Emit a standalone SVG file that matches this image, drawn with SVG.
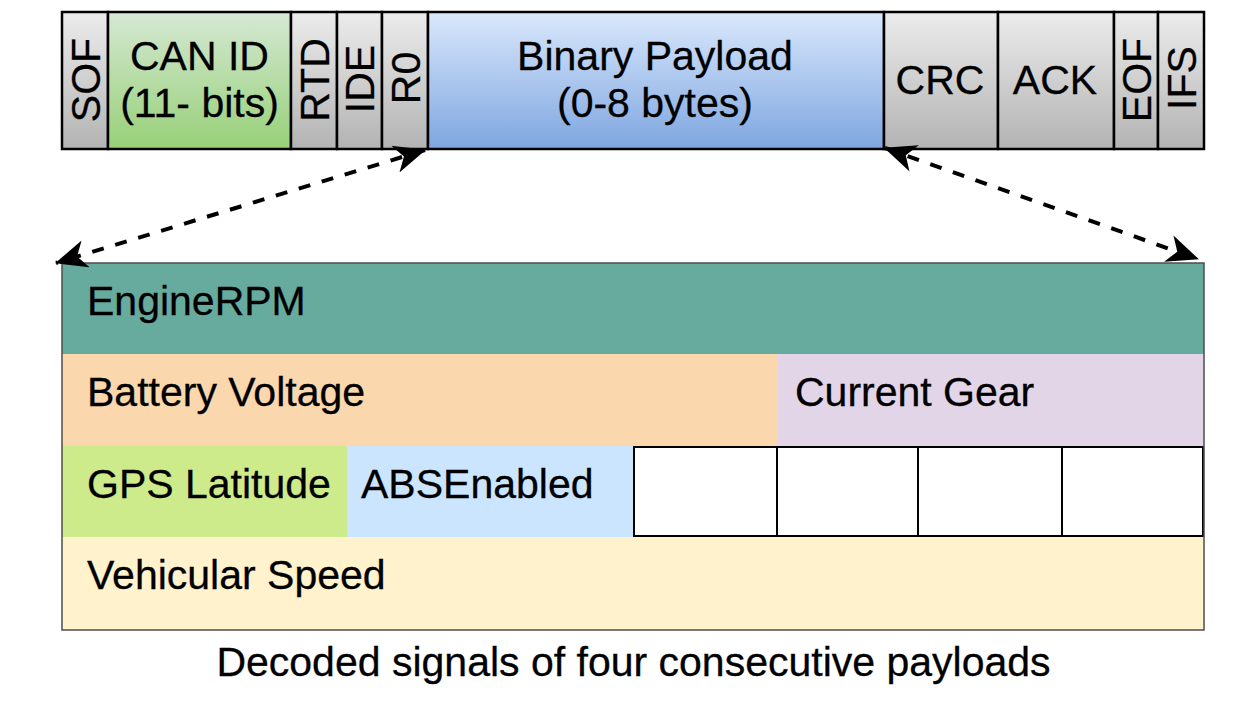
<svg xmlns="http://www.w3.org/2000/svg" width="1257" height="705" viewBox="0 0 1257 705">
<defs>
<linearGradient id="gGray" x1="0" y1="0" x2="0" y2="1"><stop offset="0" stop-color="#ececec"/><stop offset="1" stop-color="#b3b3b3"/></linearGradient>
<linearGradient id="gGreen" x1="0" y1="0" x2="0" y2="1"><stop offset="0" stop-color="#d5e8d4"/><stop offset="1" stop-color="#97d077"/></linearGradient>
<linearGradient id="gBlue" x1="0" y1="0" x2="0" y2="1"><stop offset="0" stop-color="#dae8fc"/><stop offset="1" stop-color="#7ea6e0"/></linearGradient>
<marker id="arr" markerUnits="userSpaceOnUse" viewBox="0 0 32 28" markerWidth="32" markerHeight="28" refX="31" refY="14" orient="auto-start-reverse"><path d="M0,0 L32,14 L0,28 L9,14 Z" fill="#000"/></marker>
<style>
text{font-family:"Liberation Sans",Arial,sans-serif;font-size:41px;fill:#000;stroke:#000;stroke-width:0.3}
.c{text-anchor:middle}
.f{stroke:#000;stroke-width:2.5}
.gray{fill:url(#gGray)}
.w{fill:#fff;stroke:#000;stroke-width:2}
.conn{fill:none;stroke:#000;stroke-width:4;stroke-dasharray:12 12;marker-start:url(#arr);marker-end:url(#arr)}
</style>
</defs>

<g id="frame">
<g id="sof"><rect class="f gray" x="62" y="12" width="46" height="137"/><text class="c" transform="translate(85,80) rotate(-90)" y="14.5">SOF</text></g>
<g id="canid"><rect class="f" fill="url(#gGreen)" x="108" y="12" width="183" height="137"/><text class="c" x="199.5" y="70">CAN ID</text><text class="c" x="199.5" y="117">(11- bits)</text></g>
<g id="rtd"><rect class="f gray" x="291" y="12" width="46" height="137"/><text class="c" transform="translate(314,80) rotate(-90)" y="14.5">RTD</text></g>
<g id="ide"><rect class="f gray" x="337" y="12" width="45" height="137"/><text class="c" transform="translate(359.5,79) rotate(-90)" y="14.5">IDE</text></g>
<g id="r0"><rect class="f gray" x="382" y="12" width="46" height="137"/><text class="c" transform="translate(405,78) rotate(-90)" y="14.5">R0</text></g>
<g id="payload"><rect class="f" fill="url(#gBlue)" x="428" y="12" width="456" height="137"/><text class="c" x="655" y="70">Binary Payload</text><text class="c" x="655" y="117">(0-8 bytes)</text></g>
<g id="crc"><rect class="f gray" x="884" y="12" width="114" height="137"/><text class="c" x="940" y="94">CRC</text></g>
<g id="ack"><rect class="f gray" x="998" y="12" width="116" height="137"/><text class="c" x="1055" y="94">ACK</text></g>
<g id="eof"><rect class="f gray" x="1114" y="12" width="44" height="137"/><text class="c" transform="translate(1136,80) rotate(-90)" y="14.5">EOF</text></g>
<g id="ifs"><rect class="f gray" x="1158" y="12" width="46" height="137"/><text class="c" transform="translate(1181,78) rotate(-90)" y="14.5">IFS</text></g>
</g>

<g id="signals">
<g id="enginerpm"><rect x="62" y="263" width="1142" height="91" fill="#67ab9f"/><text x="87" y="315">EngineRPM</text></g>
<g id="battery"><rect x="62" y="354" width="715" height="92" fill="#fad7ac"/><text x="87" y="406">Battery Voltage</text></g>
<g id="gear"><rect x="777" y="354" width="427" height="92" fill="#e1d5e7"/><text x="795" y="406">Current Gear</text></g>
<g id="gps"><rect x="62" y="446" width="285" height="91" fill="#cdeb8b"/><text x="87" y="498">GPS Latitude</text></g>
<g id="abs"><rect x="347" y="446" width="287" height="91" fill="#cce5ff"/><text x="361" y="498">ABSEnabled</text></g>
<g id="empty1"><rect class="w" x="634" y="447" width="143" height="89"/></g>
<g id="empty2"><rect class="w" x="777" y="447" width="141" height="89"/></g>
<g id="empty3"><rect class="w" x="918" y="447" width="144" height="89"/></g>
<g id="empty4"><rect class="w" x="1062" y="447" width="141" height="89"/></g>
<g id="speed"><rect x="62" y="537" width="1142" height="93" fill="#fff2cc"/><text x="87" y="589">Vehicular Speed</text></g>
<rect id="outer" x="62" y="263" width="1142" height="367" fill="none" stroke="#4d4d4d" stroke-width="1.5"/>
</g>

<g id="connectors">
<line class="conn" x1="425" y1="150" x2="56" y2="263"/>
<line class="conn" x1="885" y1="148" x2="1198" y2="259"/>
</g>

<text id="caption" class="c" x="633.5" y="676">Decoded signals of four consecutive payloads</text>
</svg>
